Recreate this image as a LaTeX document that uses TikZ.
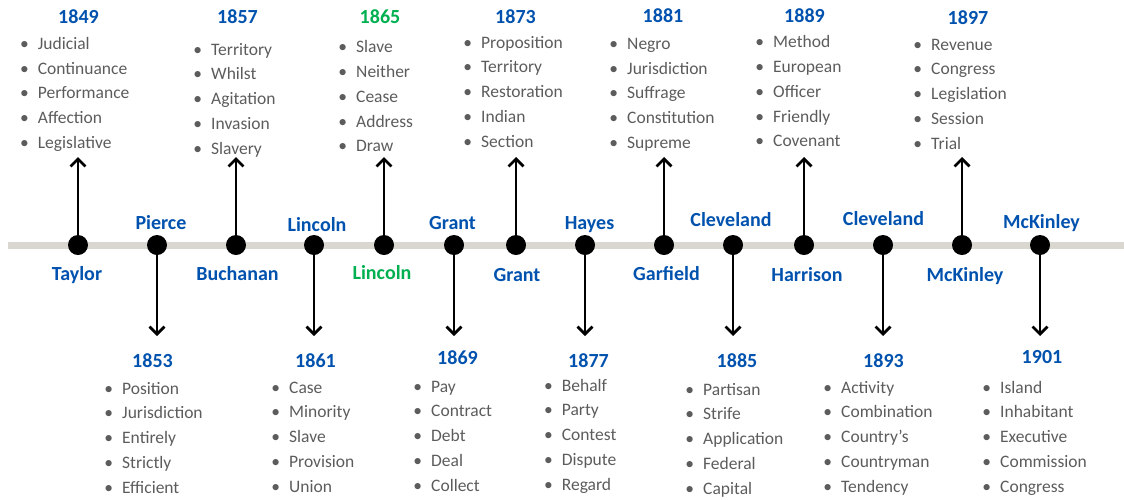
\documentclass[tikz,border=0pt]{standalone}
\usepackage{fontspec}
\setmainfont{Carlito}
\usetikzlibrary{arrows.meta}
\definecolor{presblue}{RGB}{0,82,174}
\definecolor{presgreen}{RGB}{0,176,80}
\definecolor{wordgray}{RGB}{92,92,92}
\definecolor{bargray}{RGB}{217,215,207}

\begin{document}
\begin{tikzpicture}[x=1pt,y=-1pt,
  dot/.style={circle,fill=black,inner sep=0pt,minimum size=20pt},
  stem/.style={line width=2.8pt,-{Straight Barb[length=7.5pt,width=15pt,line width=2.8pt]}},
  pres/.style={font=\fontsize{20}{24}\selectfont\bfseries,text=presblue,inner sep=0pt,anchor=base},
  word/.style={font=\fontsize{17.5}{20}\selectfont,text=wordgray,inner sep=0pt,anchor=base west}]
\useasboundingbox (0,0) rectangle (1124,499);
% timeline bar
\draw[bargray,line width=7pt] (8,245) -- (1124,245);
% dots and stems, odd ones point up
\foreach \n/\x in {1/78,2/157,3/236,4/314,5/384,6/454,7/516,8/585,9/664,10/733,11/804,12/883,13/962,14/1040}{
  \ifodd\n \coordinate (e\n) at (\x,157); \else \coordinate (e\n) at (\x,336); \fi
  \draw[stem] (\x,245) -- (e\n);
  \node[dot] (d\n) at (\x,245) {};
}
% presidents
\foreach \n/\x/\y/\name in {1/77/280/Taylor,2/161/229/Pierce,3/237.5/280/Buchanan,4/317/231/Lincoln,
  6/452.5/229/Grant,7/517/281/Grant,8/589.5/229/Hayes,9/666.5/280/Garfield,10/731/226/Cleveland,
  11/807/281/Harrison,12/883.5/225/Cleveland,13/965/281/McKinley,14/1041.5/228/McKinley}
  \node[pres] (p\n) at (\x,\y) {\name};
\node[pres,text=presgreen] (p5) at (382,279) {Lincoln};
% years and words
\foreach \n/\yr/\c/\yx/\yy/\wx/\wy/\words in {
  1/1849/presblue/78.5/23/37.7/49.3/{Judicial,Continuance,Performance,Affection,Legislative},
  2/1853/presblue/152.5/367/122/394/{Position,Jurisdiction,Entirely,Strictly,Efficient},
  3/1857/presblue/237.5/23/211/55/{Territory,Whilst,Agitation,Invasion,Slavery},
  4/1861/presblue/315.5/367/289/393/{Case,Minority,Slave,Provision,Union},
  5/1865/presgreen/380/23/356/52.7/{Slave,Neither,Cease,Address,Draw},
  6/1869/presblue/457.5/364/431/392/{Pay,Contract,Debt,Deal,Collect},
  7/1873/presblue/515.5/23/481/48/{Proposition,Territory,Restoration,Indian,Section},
  8/1877/presblue/588.5/367/561.7/391/{Behalf,Party,Contest,Dispute,Regard},
  9/1881/presblue/663/22/627/49.3/{Negro,Jurisdiction,Suffrage,Constitution,Supreme},
  10/1885/presblue/737/367/703/395/{Partisan,Strife,Application,Federal,Capital},
  11/1889/presblue/804.5/22/773/47.7/{Method,European,Officer,Friendly,Covenant},
  12/1893/presblue/883.5/367/841/393/{Activity,Combination,Country’s,Countryman,Tendency},
  13/1897/presblue/968/24.3/931/50/{Revenue,Congress,Legislation,Session,Trial},
  14/1901/presblue/1042/363/1000/393/{Island,Inhabitant,Executive,Commission,Congress}}{
  \node[pres,text=\c] (y\n) at (\yx,\yy) {\yr};
  \foreach \w [count=\i] in \words
    \node[word] (w\n-\i) at (\wx,{\wy+24.8*(\i-1)}) {\llap{\textbullet\hspace{9pt}}\w};
}
\end{tikzpicture}
\end{document}
